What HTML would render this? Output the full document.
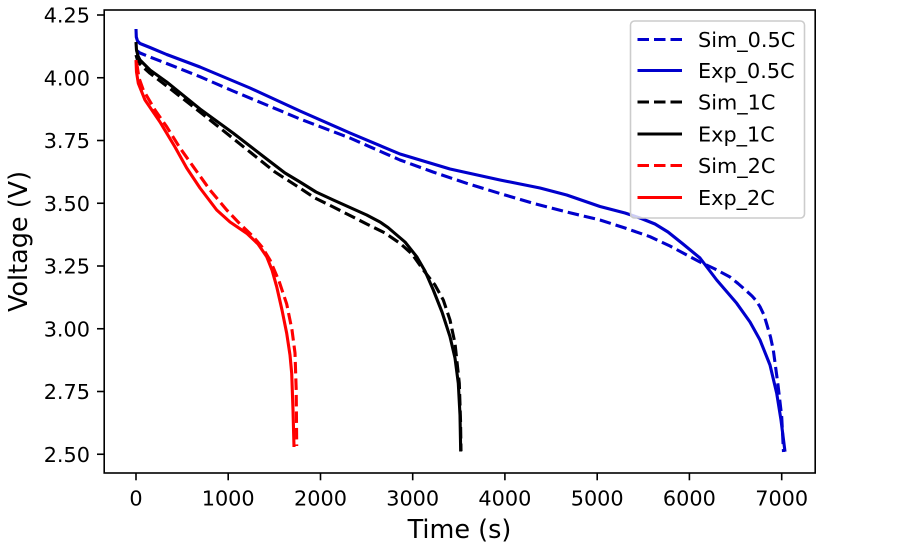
<!DOCTYPE html>
<html>
<head>
<meta charset="utf-8">
<style>
  html, body { margin: 0; padding: 0; background: #ffffff; }
  svg { display: block; }
  text { font-family: "DejaVu Sans", "Liberation Sans", sans-serif; fill: #000; }
</style>
</head>
<body>
<svg width="909" height="550" viewBox="0 0 909 550" xmlns="http://www.w3.org/2000/svg">
  <rect x="0" y="0" width="909" height="550" fill="#ffffff"/>

  <!-- series -->
  <g fill="none" stroke-width="3.1" stroke-linejoin="round" stroke-linecap="butt">
    <!-- Sim_0.5C -->
    <polyline stroke="#0000cc" stroke-dasharray="11.5 5"
      points="136,50 140,53 150,57 166.7,63.5 200,76.7 233,91 266.7,105 300,119 350,138 400,160 433,172 466.7,183.3 500,193.5 533.3,203.3 566.7,212 600,220 625,228 650,236.7 670,246 690,256.7 700,262 715,269 730,277 738,283.5 746,290.5 752,296 756,300.5 760,306.7 764,315 767,325 770.5,337 773.3,350 778,385 781.7,416.7 783.5,452"/>
    <!-- Exp_0.5C -->
    <polyline stroke="#0000cc"
      points="136,29 136.3,37 137.5,41 140,43.5 150,47.5 166.7,54.5 200,67 250,88 300,111 350,133 400,154 450,169 500,180 540,188 566.7,195 600,206.5 625,213 640,218 655,224 668,232 683,244 700,258 716.7,280 736.7,303.3 750,322 760,340 770,365 776.7,393.3 781,420 785,451.7"/>
    <!-- Sim_1C -->
    <polyline stroke="#000000" stroke-dasharray="11.5 5"
      points="136,55 138,62 143,67 150,73.3 166.7,86 200,112 250,152 275,172 296.7,186 315,198 333.3,207 366.7,224 385,233 400,243.3 412,254 423.3,270 435,285 443.3,300 450,320 455,343.3 459.3,383.3 460.5,420 461,451"/>
    <!-- Exp_1C -->
    <polyline stroke="#000000"
      points="136,42 136.5,50 138,56 140,60 150,70 166.7,82 200,109 233,133 266.7,159 285,173 300,182 316,192 333.3,200 366.7,215 380,222 388,227.5 395,233.5 405,242 416.7,256.7 425,271 433.3,290 442,312 450,336.7 455,358 458.3,383.3 460,415 460.7,451.5"/>
    <!-- Sim_2C -->
    <polyline stroke="#ff0000" stroke-dasharray="11.5 5"
      points="136.7,63 139,78 143.3,90 155,110 166.7,126.7 180,148 193.3,166.7 210,190 226.7,210 240,224 253.3,236.7 262,247 270,260 279,281 286.7,304 292,330 295,353 296.2,390 296.7,446"/>
    <!-- Exp_2C -->
    <polyline stroke="#ff0000"
      points="136,60 136.5,72 138.3,83.3 145,100 160,122 175,147 186.7,168 200,188 216.7,210 230,222 246.7,233.3 258,244 266.7,256.7 272,270 276.7,286.7 282,310 286.7,333.3 290,355 291.7,373.3 293,410 294,447"/>
  </g>

  <!-- axes frame -->
  <rect x="104.2" y="10" width="711" height="463" fill="none" stroke="#000" stroke-width="1.6"/>

  <!-- y ticks -->
  <g stroke="#000" stroke-width="1.6">
    <line x1="97" y1="15" x2="104" y2="15"/>
    <line x1="97" y1="77.75" x2="104" y2="77.75"/>
    <line x1="97" y1="140.5" x2="104" y2="140.5"/>
    <line x1="97" y1="203.25" x2="104" y2="203.25"/>
    <line x1="97" y1="266" x2="104" y2="266"/>
    <line x1="97" y1="328.75" x2="104" y2="328.75"/>
    <line x1="97" y1="391.5" x2="104" y2="391.5"/>
    <line x1="97" y1="454.25" x2="104" y2="454.25"/>
  </g>
  <g font-size="20.8" text-anchor="end">
    <text x="90" y="22.6">4.25</text>
    <text x="90" y="85.4">4.00</text>
    <text x="90" y="148.1">3.75</text>
    <text x="90" y="210.9">3.50</text>
    <text x="90" y="273.6">3.25</text>
    <text x="90" y="336.4">3.00</text>
    <text x="90" y="399.1">2.75</text>
    <text x="90" y="461.9">2.50</text>
  </g>

  <!-- x ticks -->
  <g stroke="#000" stroke-width="1.6">
    <line x1="136" y1="473" x2="136" y2="480.3"/>
    <line x1="228.2" y1="473" x2="228.2" y2="480.3"/>
    <line x1="320.5" y1="473" x2="320.5" y2="480.3"/>
    <line x1="412.7" y1="473" x2="412.7" y2="480.3"/>
    <line x1="504.9" y1="473" x2="504.9" y2="480.3"/>
    <line x1="597.2" y1="473" x2="597.2" y2="480.3"/>
    <line x1="689.4" y1="473" x2="689.4" y2="480.3"/>
    <line x1="781.7" y1="473" x2="781.7" y2="480.3"/>
  </g>
  <g font-size="20.8" text-anchor="middle">
    <text x="136" y="505.5">0</text>
    <text x="228.2" y="505.5">1000</text>
    <text x="320.5" y="505.5">2000</text>
    <text x="412.7" y="505.5">3000</text>
    <text x="504.9" y="505.5">4000</text>
    <text x="597.2" y="505.5">5000</text>
    <text x="689.4" y="505.5">6000</text>
    <text x="781.7" y="505.5">7000</text>
  </g>

  <!-- axis labels -->
  <text x="459.5" y="538" font-size="25.5" text-anchor="middle">Time (s)</text>
  <text transform="translate(27,241.5) rotate(-90)" x="0" y="0" font-size="25.5" text-anchor="middle">Voltage (V)</text>

  <!-- legend -->
  <rect x="630.5" y="21" width="174" height="197" rx="4" ry="4" fill="#ffffff" fill-opacity="0.8" stroke="#cccccc" stroke-width="1.6"/>
  <g stroke-width="3.1" fill="none">
    <line x1="637.5" y1="39.5" x2="682" y2="39.5" stroke="#0000cc" stroke-dasharray="11.5 5"/>
    <line x1="637.5" y1="70.5" x2="682" y2="70.5" stroke="#0000cc"/>
    <line x1="637.5" y1="102" x2="682" y2="102" stroke="#000000" stroke-dasharray="11.5 5"/>
    <line x1="637.5" y1="134" x2="682" y2="134" stroke="#000000"/>
    <line x1="637.5" y1="165.5" x2="682" y2="165.5" stroke="#ff0000" stroke-dasharray="11.5 5"/>
    <line x1="637.5" y1="197.5" x2="682" y2="197.5" stroke="#ff0000"/>
  </g>
  <g font-size="20.8">
    <text x="698" y="47.1">Sim_0.5C</text>
    <text x="698" y="78.1">Exp_0.5C</text>
    <text x="698" y="109.6">Sim_1C</text>
    <text x="698" y="141.6">Exp_1C</text>
    <text x="698" y="173.1">Sim_2C</text>
    <text x="698" y="205.1">Exp_2C</text>
  </g>
</svg>
</body>
</html>
